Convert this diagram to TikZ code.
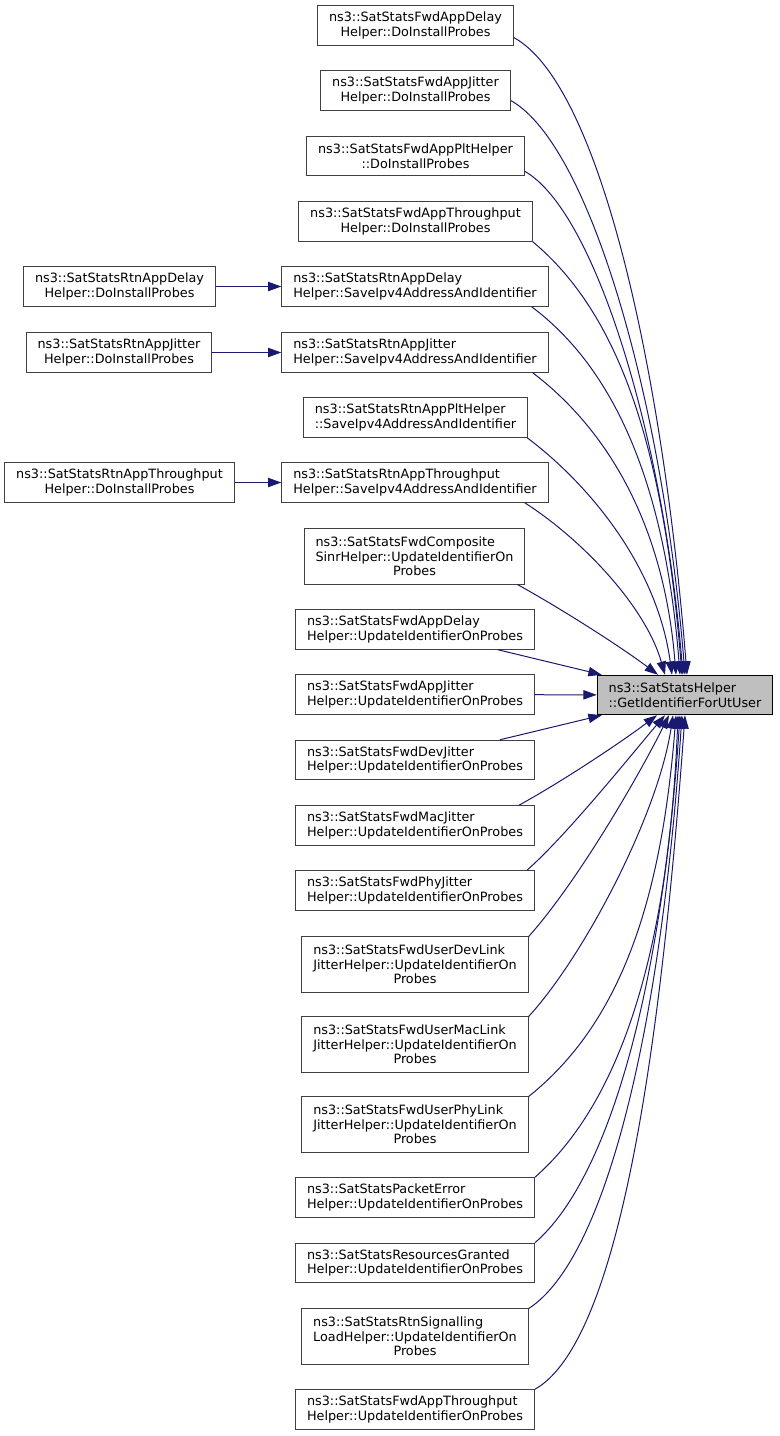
\documentclass[tikz,border=0pt]{standalone}
\usepackage{fontspec}
\setmainfont{DejaVu Sans}
\usepackage{tikz}
\usetikzlibrary{arrows.meta,calc}
\definecolor{navyline}{RGB}{25,25,112}
\definecolor{boxgrey}{RGB}{64,64,64}
\definecolor{mainfill}{RGB}{191,191,191}
\newcommand{\lastc}[1]{\hspace*{\fill}#1\hspace*{\fill}}

\begin{document}
\begin{tikzpicture}[x=0.75pt,y=-0.75pt,
    font=\fontsize{9.6pt}{11pt}\selectfont,
    callbox/.style={draw=boxgrey,line width=0.75pt,inner xsep=8.6pt,inner ysep=2pt,minimum height=29.6pt,align=left},
    tallbox/.style={callbox,minimum height=41.3pt},
    mainbox/.style={callbox,draw=black,fill=mainfill},
    callarrow/.style={navyline,line width=0.75pt,-{Triangle[length=10pt,width=7pt]}}]
  \useasboundingbox (0,0) rectangle (779,1436);
  % Called function
  \node[mainbox] (getId) at (685,695) {ns3::SatStatsHelper\\::GetIdentifierForUtUser};
  % Callers, upper column
  \node[callbox,align=center] (fwdDelayDo) at (415.5,25.5) {ns3::SatStatsFwdAppDelay\\Helper::DoInstallProbes};
  \node[callbox,align=center] (fwdJitterDo) at (415.5,90.5) {ns3::SatStatsFwdAppJitter\\Helper::DoInstallProbes};
  \node[callbox,align=center] (fwdPltDo) at (415.5,156) {ns3::SatStatsFwdAppPltHelper\\::DoInstallProbes};
  \node[callbox,align=center] (fwdTputDo) at (415.5,221.5) {ns3::SatStatsFwdAppThroughput\\Helper::DoInstallProbes};
  \node[callbox] (rtnDelaySave) at (415,286.5) {ns3::SatStatsRtnAppDelay\\Helper::SaveIpv4AddressAndIdentifier};
  \node[callbox] (rtnJitterSave) at (415,352.5) {ns3::SatStatsRtnAppJitter\\Helper::SaveIpv4AddressAndIdentifier};
  \node[callbox] (rtnPltSave) at (415.5,417.5) {ns3::SatStatsRtnAppPltHelper\\::SaveIpv4AddressAndIdentifier};
  \node[callbox] (rtnTputSave) at (415,482.5) {ns3::SatStatsRtnAppThroughput\\Helper::SaveIpv4AddressAndIdentifier};
  % Callers of the Save functions
  \node[callbox,align=center] (rtnDelayDo) at (119.5,286.5) {ns3::SatStatsRtnAppDelay\\Helper::DoInstallProbes};
  \node[callbox,align=center] (rtnJitterDo) at (119,352.5) {ns3::SatStatsRtnAppJitter\\Helper::DoInstallProbes};
  \node[callbox,align=center] (rtnTputDo) at (119.5,482.5) {ns3::SatStatsRtnAppThroughput\\Helper::DoInstallProbes};
  % Callers, lower column
  \node[tallbox] (fwdSinrUpd) at (414.5,556.5) {ns3::SatStatsFwdComposite\\SinrHelper::UpdateIdentifierOn\\\lastc{Probes}};
  \node[callbox] (fwdDelayUpd) at (415,629.5) {ns3::SatStatsFwdAppDelay\\Helper::UpdateIdentifierOnProbes};
  \node[callbox] (fwdJitterUpd) at (415,694.5) {ns3::SatStatsFwdAppJitter\\Helper::UpdateIdentifierOnProbes};
  \node[callbox] (fwdDevUpd) at (415,760) {ns3::SatStatsFwdDevJitter\\Helper::UpdateIdentifierOnProbes};
  \node[callbox] (fwdMacUpd) at (415,825.5) {ns3::SatStatsFwdMacJitter\\Helper::UpdateIdentifierOnProbes};
  \node[callbox] (fwdPhyUpd) at (415,890.5) {ns3::SatStatsFwdPhyJitter\\Helper::UpdateIdentifierOnProbes};
  \node[tallbox] (userDevUpd) at (415,964.5) {ns3::SatStatsFwdUserDevLink\\JitterHelper::UpdateIdentifierOn\\\lastc{Probes}};
  \node[tallbox] (userMacUpd) at (415,1044.5) {ns3::SatStatsFwdUserMacLink\\JitterHelper::UpdateIdentifierOn\\\lastc{Probes}};
  \node[tallbox] (userPhyUpd) at (415,1124.5) {ns3::SatStatsFwdUserPhyLink\\JitterHelper::UpdateIdentifierOn\\\lastc{Probes}};
  \node[callbox] (pktErrUpd) at (415,1197.5) {ns3::SatStatsPacketError\\Helper::UpdateIdentifierOnProbes};
  \node[callbox] (resGrantUpd) at (415,1263) {ns3::SatStatsResourcesGranted\\Helper::UpdateIdentifierOnProbes};
  \node[tallbox] (sigLoadUpd) at (415,1336.5) {ns3::SatStatsRtnSignalling\\LoadHelper::UpdateIdentifierOn\\\lastc{Probes}};
  \node[callbox] (fwdTputUpd) at (415,1409.5) {ns3::SatStatsFwdAppThroughput\\Helper::UpdateIdentifierOnProbes};
  % Left calls
  \draw[callarrow] (rtnDelayDo) -- (rtnDelaySave);
  \draw[callarrow] (rtnJitterDo) -- (rtnJitterSave);
  \draw[callarrow] (rtnTputDo) -- (rtnTputSave);
  % Calls coming down onto the top side
  \draw[callarrow] (fwdDelayDo.-7) .. controls +(87,48) and +(-24,-300) .. ($(getId.north)+(2,0)$);
  \draw[callarrow] (fwdJitterDo.-6) .. controls +(80,45) and +(-22,-270) .. (getId.north);
  \draw[callarrow] (fwdPltDo.-8) .. controls +(70,40) and +(-20,-240) .. ($(getId.north)+(-2,0)$);
  \draw[callarrow] (fwdTputDo.south east) .. controls +(90,75) and +(-18,-220) .. ($(getId.north)+(-3,0)$);
  \draw[callarrow] ($(rtnDelaySave.south east)+(-17,0)$) .. controls +(88,66) and +(-14,-180) .. ($(getId.north)+(-5,0)$);
  \draw[callarrow] ($(rtnJitterSave.south east)+(-16,0)$) .. controls +(75,57) and +(-12,-150) .. ($(getId.north)+(-9,0)$);
  \draw[callarrow] ($(rtnPltSave.south east)+(-1,0)$) .. controls +(60,45) and +(-15,-110) .. ($(getId.north)+(-13,0)$);
  \draw[callarrow] ($(rtnTputSave.south east)+(-24,0)$) .. controls +(55,35) and +(-20,-70) .. ($(getId.north)+(-20,0)$);
  \draw[callarrow] ($(fwdSinrUpd.south east)+(-8,0)$) .. controls +(40,22) and +(-40,-30) .. ($(getId.north)+(-27,0)$);
  % Nearly straight calls
  \draw[callarrow] ($(fwdDelayUpd.south east)+(-37,0)$) -- ($(getId.north west)+(5,0)$);
  \draw[callarrow] (fwdJitterUpd) -- (getId);
  \draw[callarrow] ($(fwdDevUpd.north east)+(-35,0)$) -- ($(getId.south west)+(5,0)$);
  % Calls coming up onto the bottom side
  \draw[callarrow] ($(fwdMacUpd.north east)+(-16,0)$) .. controls +(40,-22) and +(-40,30) .. ($(getId.south)+(-28,0)$);
  \draw[callarrow] ($(fwdPhyUpd.north east)+(-8,0)$) .. controls +(40,-35) and +(-30,35) .. ($(getId.south)+(-20,0)$);
  \draw[callarrow] (userDevUpd.north east) .. controls +(45,-50) and +(-35,70) .. ($(getId.south)+(-16,0)$);
  \draw[callarrow] (userMacUpd.north east) .. controls +(55,-60) and +(-15,100) .. ($(getId.south)+(-12,0)$);
  \draw[callarrow] (userPhyUpd.north east) .. controls +(90,-72) and +(-15,190) .. ($(getId.south)+(-9,0)$);
  \draw[callarrow] (pktErrUpd.north east) .. controls +(80,-70) and +(-10,250) .. ($(getId.south)+(-7,0)$);
  \draw[callarrow] (resGrantUpd.north east) .. controls +(75,-65) and +(-18,270) .. ($(getId.south)+(-5,0)$);
  \draw[callarrow] (sigLoadUpd.north east) .. controls +(80,-52) and +(-20,300) .. ($(getId.south)+(-3,0)$);
  \draw[callarrow] (fwdTputUpd.north east) .. controls +(85,-48) and +(-24,330) .. (getId.south);
\end{tikzpicture}
\end{document}
